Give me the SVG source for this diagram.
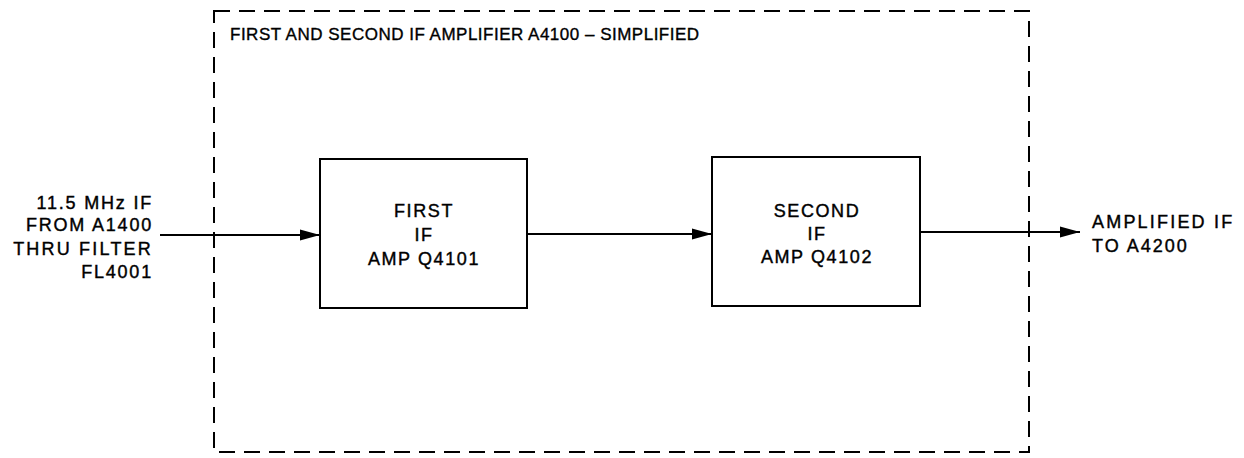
<svg xmlns="http://www.w3.org/2000/svg" width="1244" height="458" viewBox="0 0 1244 458">
  <style>
    .lbl { font-family: "Liberation Sans", Arial, sans-serif; font-size: 18px; fill: #000; stroke: #000; stroke-width: 0.4px; letter-spacing: 1.6px; }
    .title { font-family: "Liberation Sans", Arial, sans-serif; font-size: 17px; fill: #000; stroke: #000; stroke-width: 0.35px; letter-spacing: 0.5px; }
    .box { fill: #fff; stroke: #000; stroke-width: 2; }
    .wire { fill: none; stroke: #000; stroke-width: 2; }
    .frame { fill: none; stroke: #000; stroke-width: 2; stroke-dasharray: 16 9; }
  </style>
  <defs>
    <marker id="arr" markerUnits="userSpaceOnUse" markerWidth="20" markerHeight="12" refX="20" refY="6" orient="auto">
      <path d="M0,0.5 L20,6 L0,11.5 Z" fill="#000"/>
    </marker>
  </defs>
  <rect width="1244" height="458" fill="#fff"/>

  <g id="frame">
    <rect class="frame" x="214" y="11" width="815" height="441"/>
    <text class="title" x="230" y="40">FIRST AND SECOND IF AMPLIFIER A4100 – SIMPLIFIED</text>
  </g>

  <g id="connectors">
    <line class="wire" x1="160" y1="235" x2="320" y2="235" marker-end="url(#arr)"/>
    <line class="wire" x1="527" y1="234" x2="712" y2="234" marker-end="url(#arr)"/>
    <line class="wire" x1="920" y1="232" x2="1080" y2="232" marker-end="url(#arr)"/>
  </g>

  <g id="input-label">
    <text class="lbl" text-anchor="end" x="153" y="209" style="letter-spacing:1.8px">11.5 MHz IF</text>
    <text class="lbl" text-anchor="end" x="153" y="231" style="letter-spacing:1.8px">FROM A1400</text>
    <text class="lbl" text-anchor="end" x="153" y="255" style="letter-spacing:2.2px">THRU FILTER</text>
    <text class="lbl" text-anchor="end" x="153" y="278" style="letter-spacing:1.8px">FL4001</text>
  </g>

  <g id="first-if">
    <rect class="box" x="320" y="159" width="207" height="149"/>
    <text class="lbl" text-anchor="middle" x="424" y="217">FIRST</text>
    <text class="lbl" text-anchor="middle" x="424" y="241">IF</text>
    <text class="lbl" text-anchor="middle" x="424" y="265">AMP Q4101</text>
  </g>

  <g id="second-if">
    <rect class="box" x="712" y="157" width="208" height="149"/>
    <text class="lbl" text-anchor="middle" x="817" y="217">SECOND</text>
    <text class="lbl" text-anchor="middle" x="817" y="240">IF</text>
    <text class="lbl" text-anchor="middle" x="817" y="263">AMP Q4102</text>
  </g>

  <g id="output-label">
    <text class="lbl" x="1092" y="228" style="letter-spacing:2.2px">AMPLIFIED IF</text>
    <text class="lbl" x="1092" y="252" style="letter-spacing:2px">TO A4200</text>
  </g>
</svg>
